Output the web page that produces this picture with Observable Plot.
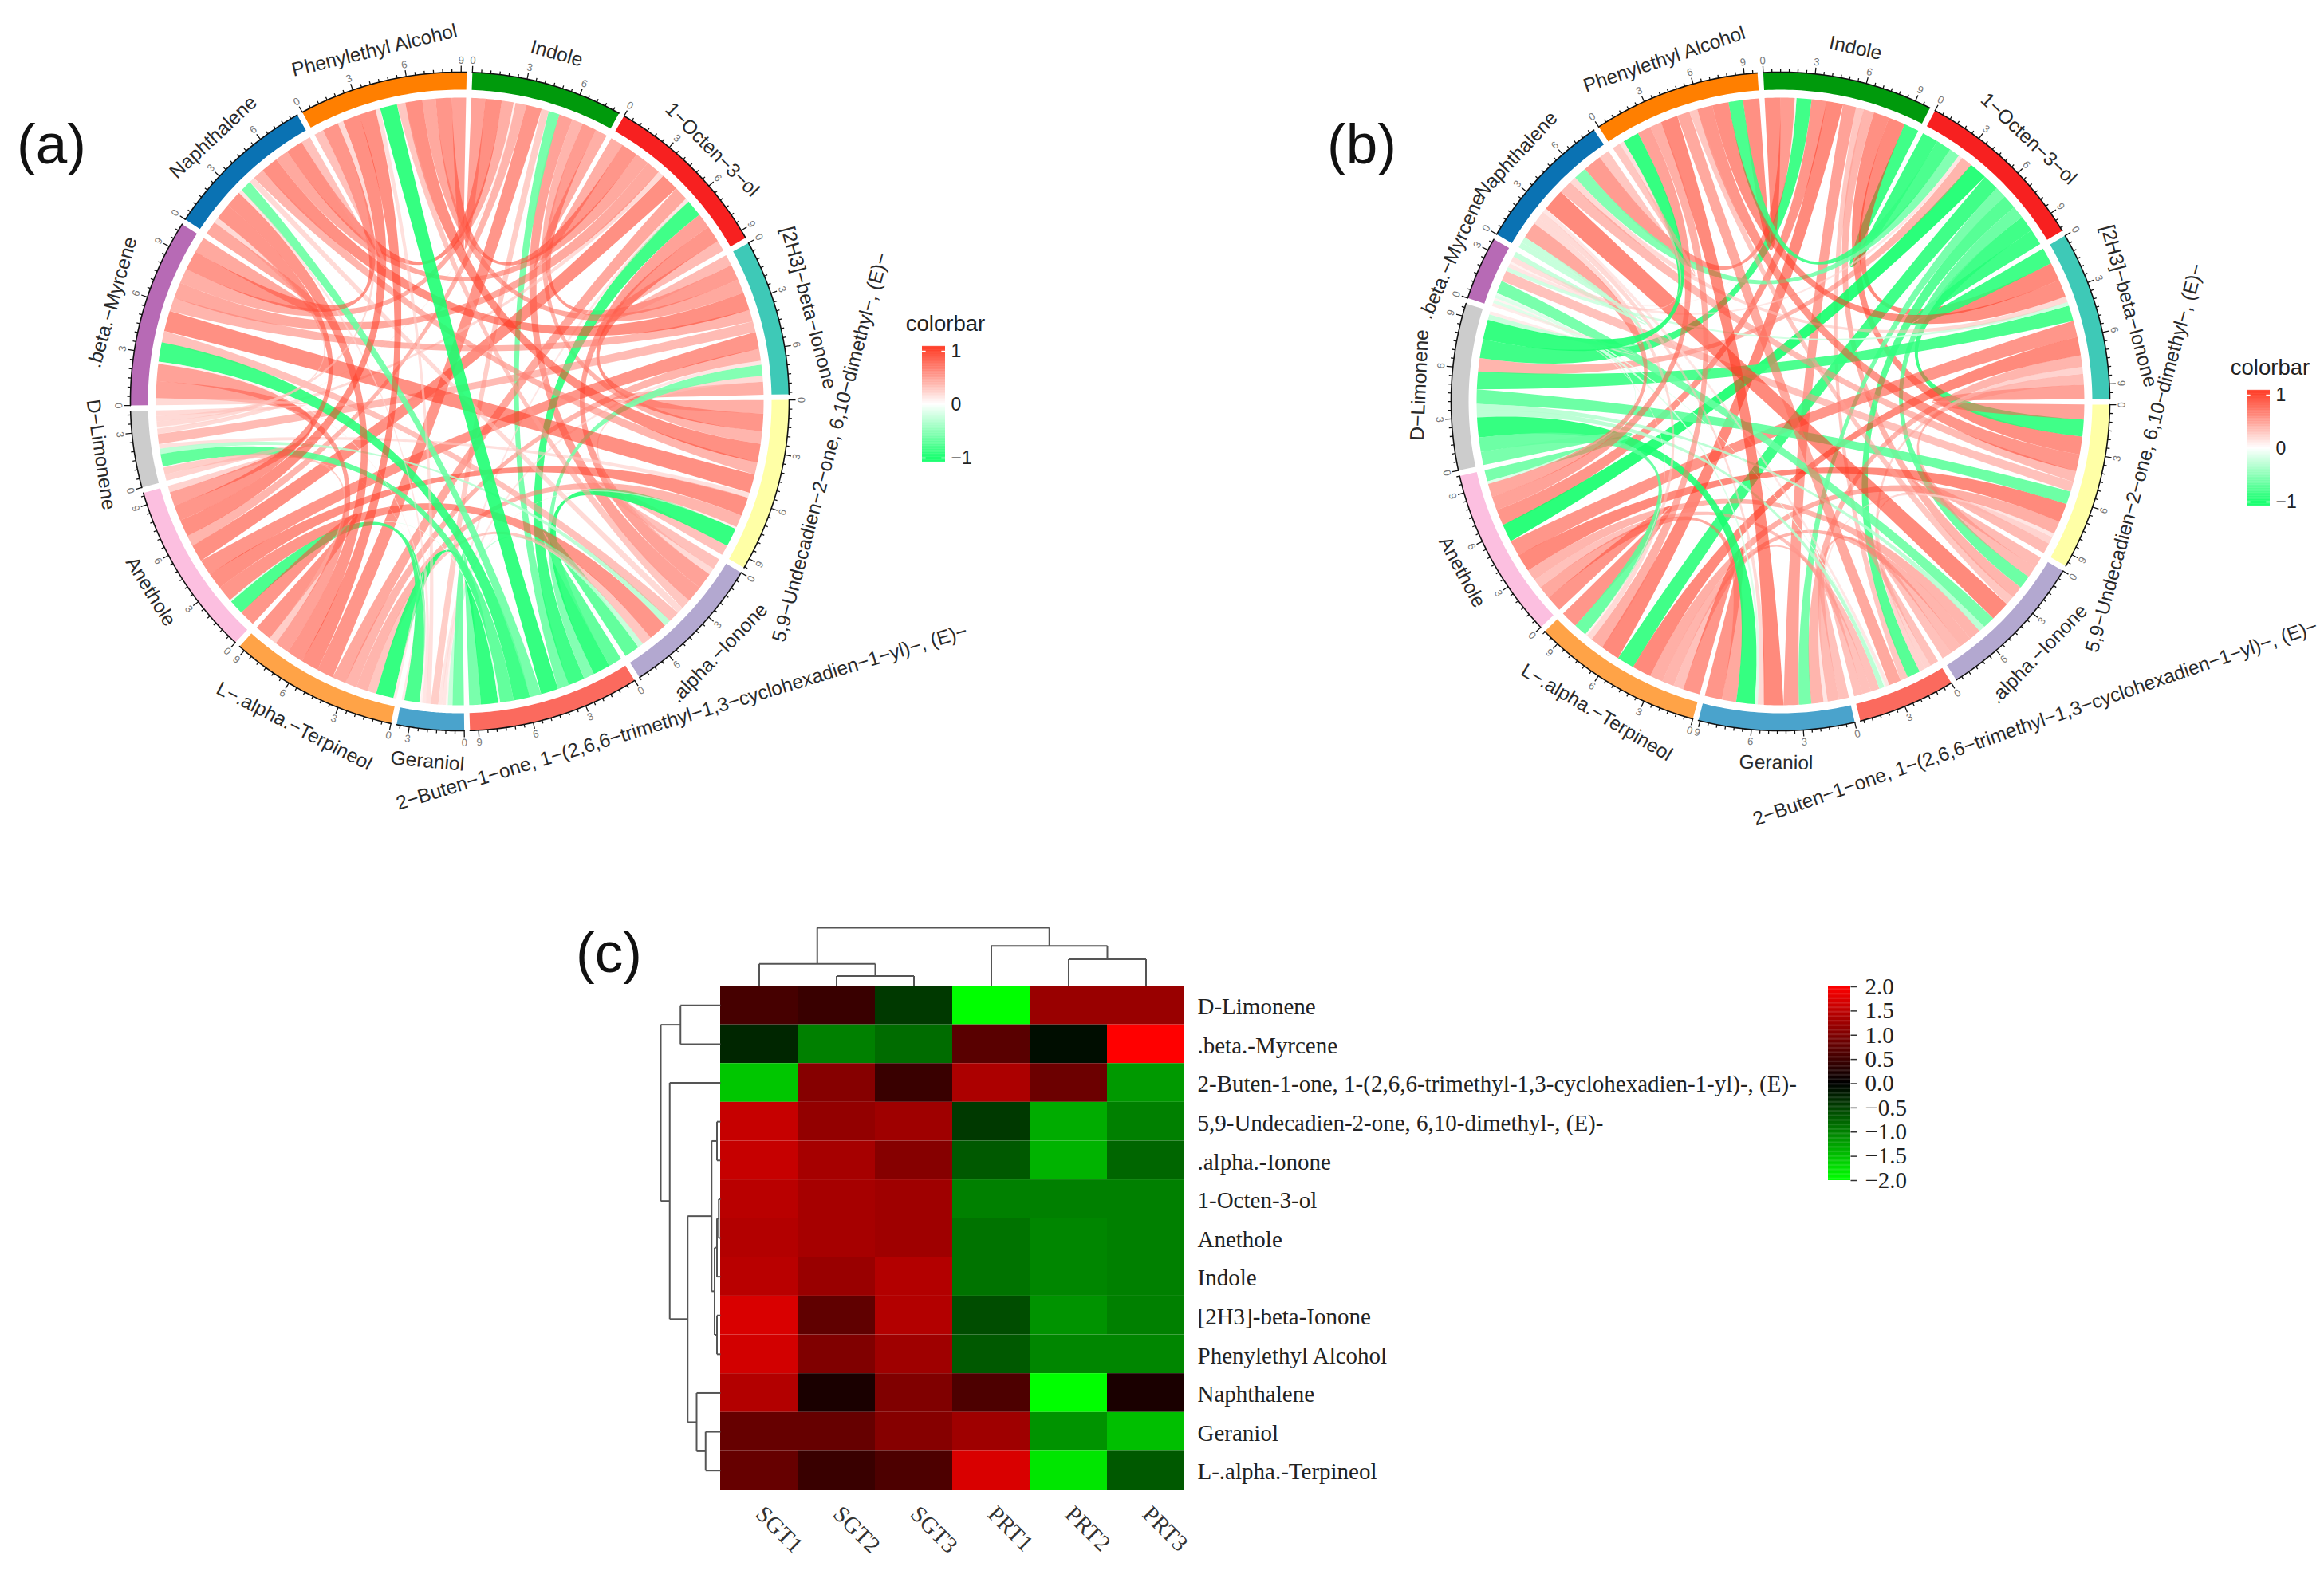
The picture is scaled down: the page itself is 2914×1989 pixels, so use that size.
<!DOCTYPE html>
<html><head><meta charset="utf-8">
<script src="https://cdn.jsdelivr.net/npm/d3@7"></script>
<script src="https://cdn.jsdelivr.net/npm/@observablehq/plot@0.6"></script>
<style>
html,body{margin:0;padding:0;background:#fff}
#page{position:relative;width:2914px;height:1989px;overflow:hidden}
#page>div{position:absolute}
#page svg{overflow:visible;background:transparent}
.tag{font:71px "Liberation Sans",Arial,sans-serif;color:#111;line-height:80px}
</style></head><body><div id="page"></div>
<script>
// ---------- shared categories
const sectorNames=["Indole","1−Octen−3−ol","[2H3]−beta−Ionone","5,9−Undecadien−2−one, 6,10−dimethyl−, (E)−",".alpha.−Ionone","2−Buten−1−one, 1−(2,6,6−trimethyl−1,3−cyclohexadien−1−yl)−, (E)−","Geraniol","L−.alpha.−Terpineol","Anethole","D−Limonene",".beta.−Myrcene","Naphthalene","Phenylethyl Alcohol"];
const sectorColors=["#009a0c","#f72020","#3ec9b7","#ffffa6","#b3a8d0","#fb6a5e","#4aa3cc","#ffa347","#fcbfe0","#cccccc","#b76ab5","#0a72b3","#ff7f00"];

// ---------- panel (a): sector totals and upper triangle of correlations
const totalsA=[8.35,9.47,8.6,9.56,8.0,9.47,3.7,9.34,9.66,4.2,10.4,8.4,9.3];
const corrA=[
 [.65,.8,.6,.75,-.6,.4,.85,.6,.1,.65,.9,.75],
 [.55,.85,.75,-.85,.2,.7,.9,.3,.7,.7,.85],
 [.65,.3,-.55,.2,.6,.85,.55,.6,.9,.7],
 [.5,-.9,.1,.6,.9,.25,.9,.6,.9],
 [-.7,-.25,.45,.85,-.3,.5,.3,.45],
 [-.6,-.9,-.1,-.7,-.85,-.6,-.9],
 [.15,-.8,.05,.1,.2,.25],
 [.85,.4,.75,.85,.9],
 [.35,.75,.85,.9],
 [.3,.3,.3],
 [.7,.85],
 [.5]
];
const labelAdjustA=[[0,0,0],[0,-6,0],[0,0,0],[65,11,0],[0,0,0],[151,7,0],[0,0,0],[0,4,0],[0,2,0],[0,2,0],[0,0,0],[0,0,0],[0,0,0]];

// ---------- panel (b)
const totalsB=[9.93,10.2,9.87,9.74,8.87,5.7,9.1,10.03,10.0,9.74,3.71,8.28,9.77];
const corrB=[
 [-.85,.95,.9,.6,.45,.75,.95,.85,-.85,.1,.8,.9],
 [-.85,-.85,-.65,-.75,-.6,-.85,-.95,.6,.2,-.55,-.8],
 [.75,.55,.35,.6,.95,.85,-.8,-.2,.3,.9],
 [.55,.35,.2,.65,.95,-.65,.5,.55,.85],
 [.5,.55,.6,.6,-.3,-.6,.95,.45],
 [.5,.5,.5,-.3,-.1,.2,.7],
 [.85,.7,-.9,-.15,.3,.95],
 [.85,-.65,.1,.3,.65],
 [-.6,-.15,.7,.75],
 [.15,-.25,-.9],
 [-.25,.25],
 [.45]
];
const labelAdjustB=[[0,0,0],[0,0,0],[0,0,0],[52,6,0],[0,0,0],[140,33,3.6],[0,0,0],[0,0,0],[0,0,0],[0,0,0],[0,-3,0],[0,0,0],[0,0,0]];

// ---------- panel (c)
const sampleNames=["SGT1","SGT2","SGT3","PRT1","PRT2","PRT3"];
const compoundNames=["D-Limonene",".beta.-Myrcene","2-Buten-1-one, 1-(2,6,6-trimethyl-1,3-cyclohexadien-1-yl)-, (E)-","5,9-Undecadien-2-one, 6,10-dimethyl-, (E)-",".alpha.-Ionone","1-Octen-3-ol","Anethole","Indole","[2H3]-beta-Ionone","Phenylethyl Alcohol","Naphthalene","Geraniol","L-.alpha.-Terpineol"];
const heatValues=[
 [.55,.45,-.45,-2,1.2,1.2],
 [-.3,-1,-.85,.7,-.1,2],
 [-1.55,1.05,.45,1.35,.85,-1.2],
 [1.55,1.15,1.25,-.45,-1.35,-1],
 [1.55,1.3,1.05,-.7,-1.4,-.8],
 [1.45,1.3,1.25,-1,-1,-1],
 [1.4,1.3,1.25,-.9,-1.05,-1],
 [1.45,1.2,1.4,-.9,-1.05,-1],
 [1.7,.75,1.4,-.6,-1.15,-1],
 [1.65,1,1.25,-.7,-1.05,-1.05],
 [1.4,.2,1,.6,-2,.2],
 [.8,.8,1.05,1.25,-1.15,-1.5],
 [.8,.45,.6,1.7,-1.8,-.7]
];
const colMerges=[[1,2,.17],[0,6,.38],[4,5,.46],[3,8,.69],[7,9,1]];
const rowMerges=[[0,1,.67],[11,12,.25],[10,14,.4],[3,4,.06],[8,9,.06],[5,6,.03],[18,7,.06],[19,17,.1],[16,20,.15],[21,15,.55],[2,22,.85],[13,23,1]];
const heatTicks=[2,1.5,1,.5,0,-.5,-1,-1.5,-2];
const chordTicks=[1,0,-1];

const page=document.getElementById("page");
function place(node,left,top){const d=document.createElement("div");d.style.left=left+"px";d.style.top=top+"px";d.appendChild(node);page.appendChild(d);return d;}
const SANS='"Liberation Sans",Arial,sans-serif', SERIF='"Liberation Serif","Times New Roman",serif';
const chordColor={type:"linear",domain:[-1,0,1],range:["#00ff60","#ffffff","#ff2a12"],interpolate:"rgb",clamp:true};

// Lay a symmetric correlation table out the way a circular chord diagram does.
function chord(totals,tri,startDeg,labelAdjust,unitLabelR){
  const n=totals.length,gap=1,R=413,Rin=391,Rch=381;
  const M=d3.range(n).map(()=>new Array(n).fill(0));
  tri.forEach((row,i)=>row.forEach((v,k)=>{M[i][i+1+k]=v;M[i+1+k][i]=v;}));
  const u=(360-n*gap)/d3.sum(totals);
  const starts=[];let c=startDeg;
  totals.forEach(t=>{starts.push(c);c+=t*u+gap;});
  const pol=(r,deg)=>{const a=deg*Math.PI/180;return [r*Math.sin(a),-r*Math.cos(a)];};
  // slot of each link: clockwise in a sector, previous sector first
  const slot={};
  for(let i=0;i<n;i++){
    const others=d3.range(1,n).map(k=>(i-k+n)%n);
    const sum=d3.sum(others,j=>Math.abs(M[i][j]));
    let a=starts[i];
    others.forEach(j=>{const w=Math.abs(M[i][j])*totals[i]/sum*u;slot[i+"-"+j]=[a,a+w];a+=w;});
  }
  const ribbons=[];
  for(let i=0;i<n;i++)for(let j=i+1;j<n;j++){
    const r=M[i][j],[a0,a1]=slot[i+"-"+j],[b0,b1]=slot[j+"-"+i],id=i+"-"+j,op=r<0?.88:.58,pts=[];
    const arc=(s,e)=>d3.range(0,7).forEach(k=>{const [x,y]=pol(Rch,s+(e-s)*k/6);pts.push({id,r,op,x,y});});
    const bez=(s,e)=>{
      const P=pol(Rch,s),Q=pol(Rch,e),mx=(P[0]+Q[0])/2,my=(P[1]+Q[1])/2,d=Math.hypot(mx,my)||1e-9;
      const span=2*Math.acos(Math.min(1,d/Rch))*180/Math.PI;
      const f=.5+.2*Math.max(0,Math.min(1,(span-120)/60)),cr=(2*f-1)*d,C=[mx/d*cr,my/d*cr];
      d3.range(1,30).forEach(k=>{const t=k/30,w=(1-t)*(1-t),z=2*t*(1-t),v=t*t;pts.push({id,r,op,x:w*P[0]+z*C[0]+v*Q[0],y:w*P[1]+z*C[1]+v*Q[1]});});
    };
    arc(a0,a1);bez(a1,b0);arc(b0,b1);bez(b1,a0);
    ribbons.push(...pts);
  }
  const marks=[Plot.line(ribbons,{x:"x",y:"y",z:"id",fill:"r",fillOpacity:"op",stroke:"none"})];
  const ticks=[],tlabels=[],slabels=[];
  totals.forEach((t,i)=>{
    const e=starts[i]+t*u,ring=[],edge=[];
    d3.range(0,41).forEach(k=>{const d=starts[i]+(e-starts[i])*k/40;const [x,y]=pol(R,d);edge.push({x,y});ring.push({x,y});});
    d3.range(40,-1,-1).forEach(k=>{const d=starts[i]+(e-starts[i])*k/40;const [x,y]=pol(Rin,d);ring.push({x,y});});
    marks.push(Plot.line(ring,{x:"x",y:"y",fill:sectorColors[i],stroke:"none"}));
    marks.push(Plot.line(edge,{x:"x",y:"y",stroke:"#111",strokeWidth:1.6}));
    d3.range(0,t+1e-6,.5).forEach(v=>{
      const d=starts[i]+v*u,major=v%3===0,[x1,y1]=pol(R,d),[x2,y2]=pol(R+(major?8:4),d);
      ticks.push({x1,y1,x2,y2});
      if(major){const [x,y]=pol(unitLabelR,d);const q=((d%360)+360)%360;tlabels.push({x,y,t:String(v),rot:(q>90&&q<270)?q-180:q});}
    });
    const mid=(starts[i]+e)/2,q=((mid%360)+360)%360,flip=q>90&&q<270;
    const [sh,ex,turn]=labelAdjust[i],rot=(flip?q-180:q)+turn,[px,py]=pol(453+ex,mid),ra=rot*Math.PI/180;
    slabels.push({x:px+sh*Math.cos(ra),y:py+sh*Math.sin(ra),t:sectorNames[i],rot});
  });
  marks.push(Plot.link(ticks,{x1:"x1",y1:"y1",x2:"x2",y2:"y2",stroke:"#111",strokeWidth:1.3}));
  marks.push(Plot.text(tlabels,{x:"x",y:"y",text:"t",rotate:"rot",fontSize:13,fill:"#777",fontFamily:SANS}));
  marks.push(Plot.text(slabels,{x:"x",y:"y",text:"t",rotate:"rot",fontSize:24.5,fill:"#2a2a2a",fontFamily:SANS}));
  return Plot.plot({width:1258,height:1100,margin:0,axis:null,
    x:{domain:[-576,682],range:[0,1258]},y:{domain:[-503,597],range:[0,1100]},
    color:chordColor,opacity:{type:"identity"},marks});
}
place(chord(totalsA,corrA,2.2,labelAdjustA,428),0,0);
place(chord(totalsB,corrB,-3,labelAdjustB,428),1656,0);

function colorbar(){
  const steps=d3.range(-1.09,1.09,.01);
  return Plot.plot({width:29,height:146,margin:0,axis:null,
    x:{domain:[0,1],range:[0,29]},y:{domain:[-1.09,1.09],range:[146,0]},color:chordColor,
    marks:[
      Plot.rect(steps,{x1:()=>0,x2:()=>1,y1:d=>d,y2:d=>d+.012,fill:d=>d}),
      Plot.ruleY([1,-1],{x1:()=>0,x2:()=>.16,stroke:"#fff",strokeWidth:1.5}),
      Plot.ruleY([1,-1],{x1:()=>.84,x2:()=>1,stroke:"#fff",strokeWidth:1.5}),
      Plot.text(chordTicks,{x:()=>1,y:d=>d,text:d=>d<0?"−"+(-d):String(d),dx:7,textAnchor:"start",fontSize:23,fill:"#222",fontFamily:SANS}),
      Plot.text(["colorbar"],{x:()=>1,y:()=>1,dy:-34,fontSize:27.5,fill:"#222",fontFamily:SANS})
    ]});
}
place(colorbar(),1156,434);
place(colorbar(),2817,489);

// ---------- heat map
const cells=[];
compoundNames.forEach((rn,i)=>sampleNames.forEach((cn,j)=>cells.push({row:rn,col:cn,v:heatValues[i][j]})));
place(Plot.plot({width:582,height:632,margin:0,axis:null,
  x:{domain:sampleNames,padding:0,range:[0,582],round:false},y:{domain:compoundNames,padding:0,range:[0,632],round:false},
  color:{type:"linear",domain:[-2,0,2],range:["#00ff00","#000000","#ff0000"],interpolate:"rgb"},
  marks:[
    Plot.cell(cells,{x:"col",y:"row",fill:"v"}),
    Plot.text(compoundNames,{y:d=>d,frameAnchor:"right",textAnchor:"start",dx:16,dy:2,fontSize:29,fill:"#222",fontFamily:SERIF}),
    Plot.text(sampleNames,{x:d=>d,frameAnchor:"bottom",textAnchor:"start",rotate:45,dx:-6,dy:32,fontSize:29,fill:"#333",fontFamily:SERIF})
  ]}),903,1236);

// ---------- dendrograms
function dendro(merges,leaves){
  const pos=d3.range(leaves),hgt=new Array(leaves).fill(0),segs=[];
  merges.forEach(([a,b,h])=>{
    segs.push({p1:pos[a],h1:hgt[a],p2:pos[a],h2:h},{p1:pos[b],h1:hgt[b],p2:pos[b],h2:h},{p1:pos[a],h1:h,p2:pos[b],h2:h});
    pos.push((pos[a]+pos[b])/2);hgt.push(h);
  });
  return segs;
}
place(Plot.plot({width:582,height:73,margin:0,axis:null,
  x:{domain:[-.5,5.5],range:[0,582]},y:{domain:[0,1],range:[73,0]},
  marks:[Plot.link(dendro(colMerges,6),{x1:"p1",y1:"h1",x2:"p2",y2:"h2",stroke:"#555",strokeWidth:2})]}),903,1163);
place(Plot.plot({width:75,height:632,margin:0,axis:null,
  x:{domain:[1,0],range:[0,75]},y:{domain:[-.5,12.5],range:[0,632]},
  marks:[Plot.link(dendro(rowMerges,13),{x1:"h1",y1:"p1",x2:"h2",y2:"p2",stroke:"#555",strokeWidth:2})]}),828,1236);

// ---------- heat map colour bar
const hbarSteps=d3.range(-2,2,.02);
place(Plot.plot({width:28,height:243,margin:0,axis:null,
  x:{domain:[0,1],range:[0,28]},y:{domain:[-2,2],range:[243,0]},
  color:{type:"linear",domain:[-2,0,2],range:["#00ff00","#000000","#ff0000"],interpolate:"rgb"},
  marks:[
    Plot.rect(hbarSteps,{x1:()=>0,x2:()=>1,y1:d=>d,y2:d=>d+.025,fill:d=>d}),
    Plot.link(heatTicks,{x1:()=>1,x2:()=>1.3,y1:d=>d,y2:d=>d,stroke:"#333",strokeWidth:1.5}),
    Plot.text(heatTicks,{x:()=>1,y:d=>d,text:d=>(d<0?"−":"")+Math.abs(d).toFixed(1),dx:18,textAnchor:"start",fontSize:29,fill:"#222",fontFamily:SERIF})
  ]}),2292,1237);

[["(a)",21,141],["(b)",1664,141],["(c)",722,1155]].forEach(([t,l,tp])=>{
  const d=document.createElement("div");d.className="tag";d.textContent=t;d.style.left=l+"px";d.style.top=tp+"px";page.appendChild(d);
});
</script></body></html>
